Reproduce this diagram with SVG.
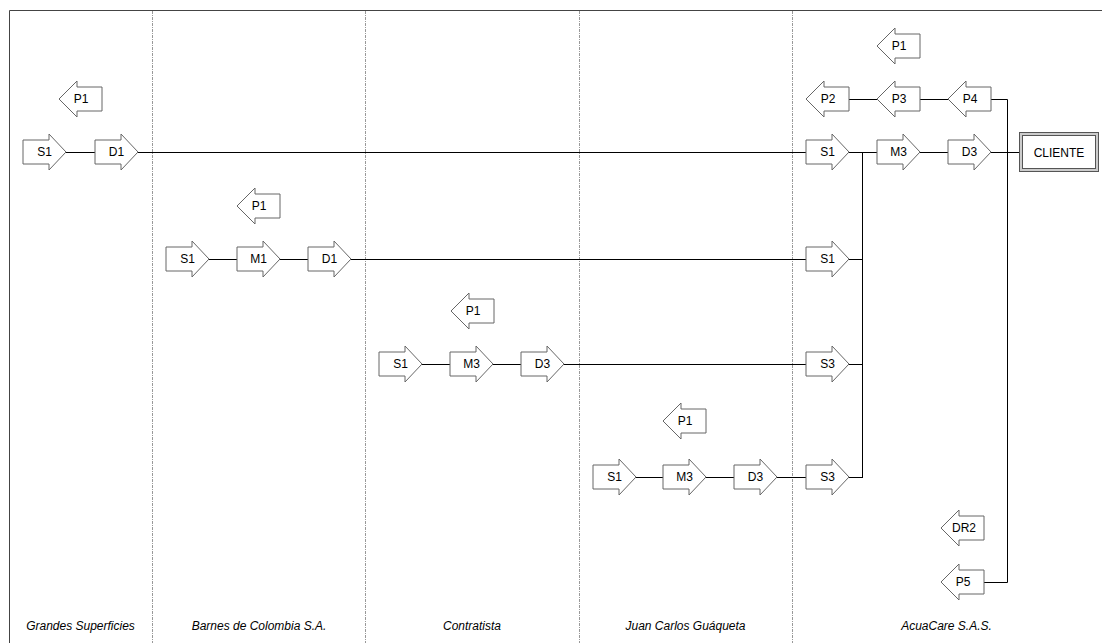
<svg xmlns="http://www.w3.org/2000/svg" width="1102" height="643" viewBox="0 0 1102 643">
<style>
.sh{fill:#fff;stroke:#666;stroke-width:1}
.t{font-family:"Liberation Sans",Arial,sans-serif;font-size:12px;fill:#000;text-anchor:middle}
.lane{font-family:"Liberation Sans",Arial,sans-serif;font-size:12px;font-style:italic;fill:#000;text-anchor:middle}
.c{stroke:#000;stroke-width:1;fill:none}
.div{stroke:#999;stroke-width:1;stroke-dasharray:3,1,1,1;fill:none}
</style>
<defs>
<path id="ra" class="sh" d="M0,-12 H26 V-18 L43,0 L26,18 V12 H0 Z"/>
<path id="la" class="sh" d="M0,0 L18,-18 V-12 H43 V12 H18 V18 Z"/>
</defs>
<rect width="1102" height="643" fill="#fff"/>
<g id="frame">
<path d="M9.5,643 V10.5 H1102" stroke="#444" stroke-width="1" fill="none"/>
<path class="div" d="M152.5,11 V643 M365.5,11 V643 M579.5,11 V643 M792.5,11 V643"/>
</g>
<g id="lanes">
<text class="lane" x="80.5" y="630">Grandes Superficies</text>
<text class="lane" x="259" y="630">Barnes de Colombia S.A.</text>
<text class="lane" x="472" y="630">Contratista</text>
<text class="lane" x="685.5" y="630">Juan Carlos Guáqueta</text>
<text class="lane" x="946.5" y="630">AcuaCare S.A.S.</text>
</g>
<g id="connectors">
<path class="c" d="M66,152.5 H95 M138,152.5 H806 M849,152.5 H877 M920,152.5 H948 M991,152.5 H1019"/>
<path class="c" d="M209,259.5 H237 M280,259.5 H308 M351,259.5 H806"/>
<path class="c" d="M422,364.5 H450 M493,364.5 H521 M564,364.5 H806"/>
<path class="c" d="M636,477.5 H663 M706,477.5 H734 M777,477.5 H806"/>
<path class="c" d="M849,259.5 H862.5 M849,364.5 H862.5 M849,477.5 H862.5 M862.5,152 V478"/>
<path class="c" d="M849,99.5 H877 M920,99.5 H948 M991,99.5 H1007.5 V582.5 H984"/>
</g>
<g id="n-gs-p1"><use href="#la" x="59" y="99"/><text class="t" x="81" y="103">P1</text></g>
<g id="n-gs-s1"><use href="#ra" x="23" y="152"/><text class="t" x="44.5" y="156">S1</text></g>
<g id="n-gs-d1"><use href="#ra" x="95" y="152"/><text class="t" x="116.5" y="156">D1</text></g>
<g id="n-bc-p1"><use href="#la" x="237" y="206"/><text class="t" x="259" y="210">P1</text></g>
<g id="n-bc-s1"><use href="#ra" x="166" y="259"/><text class="t" x="187.5" y="263">S1</text></g>
<g id="n-bc-m1"><use href="#ra" x="237" y="259"/><text class="t" x="258.5" y="263">M1</text></g>
<g id="n-bc-d1"><use href="#ra" x="308" y="259"/><text class="t" x="329.5" y="263">D1</text></g>
<g id="n-co-p1"><use href="#la" x="451" y="311"/><text class="t" x="473" y="315">P1</text></g>
<g id="n-co-s1"><use href="#ra" x="379" y="364"/><text class="t" x="400.5" y="368">S1</text></g>
<g id="n-co-m3"><use href="#ra" x="450" y="364"/><text class="t" x="471.5" y="368">M3</text></g>
<g id="n-co-d3"><use href="#ra" x="521" y="364"/><text class="t" x="542.5" y="368">D3</text></g>
<g id="n-jc-p1"><use href="#la" x="663" y="421"/><text class="t" x="685" y="425">P1</text></g>
<g id="n-jc-s1"><use href="#ra" x="593" y="477"/><text class="t" x="614.5" y="481">S1</text></g>
<g id="n-jc-m3"><use href="#ra" x="663" y="477"/><text class="t" x="684.5" y="481">M3</text></g>
<g id="n-jc-d3"><use href="#ra" x="734" y="477"/><text class="t" x="755.5" y="481">D3</text></g>
<g id="n-ac-p1"><use href="#la" x="877" y="46"/><text class="t" x="899" y="50">P1</text></g>
<g id="n-ac-p2"><use href="#la" x="806" y="99"/><text class="t" x="828" y="103">P2</text></g>
<g id="n-ac-p3"><use href="#la" x="877" y="99"/><text class="t" x="899" y="103">P3</text></g>
<g id="n-ac-p4"><use href="#la" x="948" y="99"/><text class="t" x="970" y="103">P4</text></g>
<g id="n-ac-s1a"><use href="#ra" x="806" y="152"/><text class="t" x="827.5" y="156">S1</text></g>
<g id="n-ac-m3"><use href="#ra" x="877" y="152"/><text class="t" x="898.5" y="156">M3</text></g>
<g id="n-ac-d3"><use href="#ra" x="948" y="152"/><text class="t" x="969.5" y="156">D3</text></g>
<g id="n-ac-s1b"><use href="#ra" x="806" y="259"/><text class="t" x="827.5" y="263">S1</text></g>
<g id="n-ac-s3a"><use href="#ra" x="806" y="364"/><text class="t" x="827.5" y="368">S3</text></g>
<g id="n-ac-s3b"><use href="#ra" x="806" y="477"/><text class="t" x="827.5" y="481">S3</text></g>
<g id="n-ac-dr2"><use href="#la" x="941" y="528"/><text class="t" x="964" y="532">DR2</text></g>
<g id="n-ac-p5"><use href="#la" x="941" y="582"/><text class="t" x="963" y="586">P5</text></g>
<g id="n-cliente">
<rect x="1019.5" y="132.5" width="79" height="39" fill="#ccc" stroke="#555"/>
<rect x="1022.5" y="135.5" width="73" height="33" fill="#fff" stroke="#555"/>
<text class="t" x="1059" y="156.5">CLIENTE</text>
</g>
</svg>
